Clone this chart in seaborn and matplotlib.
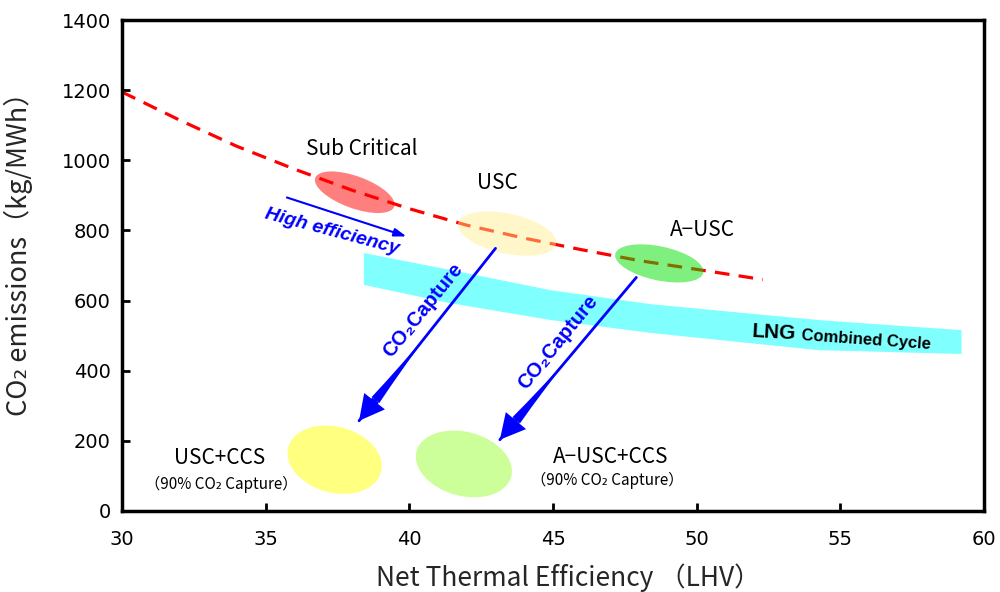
import matplotlib
matplotlib.use("Agg")
import numpy as np
import pandas as pd
import seaborn as sns
import matplotlib.pyplot as plt
from matplotlib.patches import Ellipse
import matplotlib.transforms as mtransforms

# ---------------- data ----------------
trend_eff = [30, 32, 34, 36, 38, 40, 42, 44, 46, 48, 50, 52.3]
trend_co2 = [1195, 1115, 1040, 975, 915, 862, 815, 778, 745, 714, 689, 660]

lng_eff = [38.4, 41.4, 44.9, 48.4, 54.2, 59.2]
lng_high = [737, 689, 631, 591, 546, 517]
lng_low = [646, 594, 546, 509, 460, 449]

tech_names = ["Sub Critical", "USC", "A\u2212USC", "USC+CCS", "A\u2212USC+CCS"]
tech_eff = [38.1, 43.4, 48.7, 37.4, 41.9]
tech_co2 = [909, 791, 706, 146, 134]

capture_start_eff = [43.0, 47.9]
capture_start_co2 = [749, 666]
capture_end_eff = [38.25, 43.15]
capture_end_co2 = [257, 203]

x_ticks = [30, 35, 40, 45, 50, 55, 60]
y_ticks = [0, 200, 400, 600, 800, 1000, 1200, 1400]

# ---------------- style ----------------
sns.set_theme(style="white")
plt.rcParams['font.family'] = ['Noto Sans CJK JP', 'DejaVu Sans']
BOLD_FAM = ['Liberation Sans', 'DejaVu Sans']

fig = plt.figure(figsize=(10, 5.92), dpi=100)
ax = fig.add_axes([0.122, 0.137, 0.862, 0.829])
ax.set_xlim(30, 60)
ax.set_ylim(0, 1400)
ax.set_autoscale_on(False)

# LNG band
ax.fill_between(lng_eff, lng_low, lng_high, color='#80ffff', lw=0, zorder=1)

# efficiency trend
sns.lineplot(x=trend_eff, y=trend_co2, ax=ax, color='red', lw=2.3, zorder=2, sort=False)
ax.lines[-1].set_dashes([4.6, 2.9])

# ellipses (size in pixels, centred on data)
ell_w = [84, 100, 90, 96, 98]
ell_h = [32, 40, 34, 66, 64]
ell_ang = [-20, -12, -12, -15, -15]
ell_col = ['#ff0000', '#ffee88', '#00e000', '#ffff80', '#ccff99']
ell_alpha = [0.5, 0.45, 0.5, 1.0, 1.0]
for i in range(5):
    tr = fig.dpi_scale_trans + mtransforms.ScaledTranslation(tech_eff[i], tech_co2[i], ax.transData)
    e = Ellipse((0, 0), ell_w[i] / 100, ell_h[i] / 100, angle=ell_ang[i], transform=tr,
                facecolor=ell_col[i], alpha=ell_alpha[i], lw=0, zorder=3)
    ax.add_patch(e)

# technology labels
lab_pos = [(38.35, 1031), (43.05, 934), (50.19, 800), (33.41, 151), (47.02, 154)]
for name, (lx, ly) in zip(tech_names, lab_pos):
    ax.text(lx, ly, name, fontsize=15, ha='center', va='center', color='black', zorder=5)
for lx, ly in [(33.45, 74), (46.88, 86)]:
    ax.text(lx, ly, "\uff0890% CO\u2082 Capture\uff09", fontsize=11, ha='center', va='center',
            color='black', zorder=5)

# High efficiency arrow
ax.annotate('', xy=(39.9, 783), xytext=(35.74, 894),
            arrowprops=dict(arrowstyle='-|>,head_length=0.6,head_width=0.2', color='blue', lw=1.5,
                            shrinkA=0, shrinkB=0), zorder=4)
ax.text(37.31, 797, "High efficiency", fontsize=14, fontweight='bold', fontstyle='italic',
        family=BOLD_FAM, color='blue', rotation=-15,
        ha='center', va='center', rotation_mode='anchor', zorder=5)

# CO2 capture arrows
for sx, sy, ex, ey in zip(capture_start_eff, capture_start_co2, capture_end_eff, capture_end_co2):
    ax.annotate('', xy=(ex, ey), xytext=(sx, sy),
                arrowprops=dict(arrowstyle='-', color='blue', lw=2, shrinkA=0, shrinkB=0), zorder=4)
    fx = sx + 0.88 * (ex - sx)
    fy = sy + 0.88 * (ey - sy)
    mx = sx + 0.5 * (ex - sx)
    my = sy + 0.5 * (ey - sy)
    ax.annotate('', xy=(mx, my), xytext=(fx, fy),
                arrowprops=dict(arrowstyle='wedge,tail_width=0.35,shrink_factor=0.4', color='blue',
                                lw=0, shrinkA=0, shrinkB=0, mutation_scale=20), zorder=4)
    ax.annotate('', xy=(ex, ey), xytext=(fx, fy),
                arrowprops=dict(arrowstyle='simple,head_length=0.9,head_width=0.95,tail_width=0.3',
                                color='blue', lw=0, shrinkA=0, shrinkB=0, mutation_scale=20), zorder=4)

for tx, ty in [(40.48, 571), (45.18, 480)]:
    ax.text(tx, ty, "CO\u2082Capture", fontsize=14.5, fontweight='bold',
            family=BOLD_FAM, color='blue', rotation=51,
            ha='center', va='center', rotation_mode='anchor', zorder=5)

# LNG label
ax.text(52.69, 509, "LNG", fontsize=15, fontweight='bold', family=BOLD_FAM,
        color='black', rotation=-3, ha='center', va='center', rotation_mode='anchor', zorder=5)
ax.text(55.9, 487, "Combined Cycle", fontsize=12, fontweight='bold',
        family=['Liberation Sans Narrow', 'Liberation Sans', 'DejaVu Sans'],
        color='black', rotation=-4, ha='center', va='center', rotation_mode='anchor', zorder=5)

# axes
ax.set_xticks(x_ticks)
ax.set_yticks(y_ticks)
ax.set_xticklabels([str(v) for v in x_ticks], family=['DejaVu Sans'])
ax.set_yticklabels([str(v) for v in y_ticks], family=['DejaVu Sans'])
ax.tick_params(direction='in', length=6, width=2, labelsize=14, colors='black',
               bottom=True, left=True, top=False, right=False)
ax.tick_params(axis='x', pad=14)
ax.tick_params(axis='y', pad=8)
for sp in ax.spines.values():
    sp.set_linewidth(2.5)
    sp.set_color('black')
ax.set_xlabel("Net Thermal Efficiency \uff08LHV\uff09", fontsize=19)
ax.set_ylabel("CO\u2082 emissions\uff08kg/MWh\uff09", fontsize=19.5)
ax.xaxis.set_label_coords(0.518, -0.108)
ax.yaxis.set_label_coords(-0.103, 0.538)

fig.savefig("out.png", dpi=100)
